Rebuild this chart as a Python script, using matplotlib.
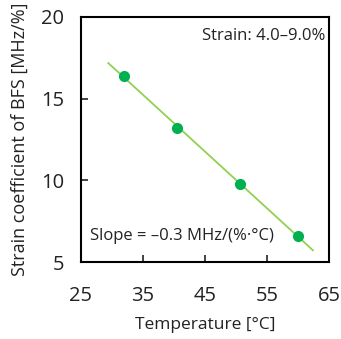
import matplotlib
matplotlib.use('Agg')
import matplotlib.pyplot as plt
import numpy as np

plt.rcParams['font.family'] = ['Open Sans', 'DejaVu Sans']

temperature = [31.9, 40.5, 50.6, 60.0]
coefficient = [16.4, 13.2, 9.8, 6.6]
fit_range = [29.4, 62.4]
xticks = [25, 35, 45, 55, 65]
yticks = [5, 10, 15, 20]

k, b = np.polyfit(temperature, coefficient, 1)
fx = np.array(fit_range)

fig = plt.figure(figsize=(3.41, 3.39), dpi=100)
ax = fig.add_axes([0.2375, 0.227, 0.7275, 0.723])
ax.plot(fx, k * fx + b, color='#92D050', lw=1.3, zorder=2)
ax.plot(temperature, coefficient, 'o', color='#00B050', ms=7, zorder=3)

ax.set_xlim(25, 65)
ax.set_ylim(5, 20)
ax.set_xticks(xticks)
ax.set_yticks(yticks)
ax.tick_params(direction='in', length=5, width=1.2, labelsize=14.5, colors='#222222')
ax.tick_params(axis='x', pad=17)
ax.tick_params(axis='y', pad=12)
for s in ax.spines.values():
    s.set_linewidth(1.5)
ax.set_xlabel('Temperature [°C]', fontsize=12.5, labelpad=8, color='#222222')
ax.set_ylabel('Strain coefficient of BFS [MHz/%]', fontsize=13, labelpad=9, color='#222222')

ax.text(0.985, 0.955, 'Strain: 4.0–9.0%', transform=ax.transAxes,
        ha='right', va='top', fontsize=12, color='#222222')
ax.text(0.035, 0.105, 'Slope = –0.3 MHz/(%·°C)', transform=ax.transAxes,
        ha='left', va='center', fontsize=12, color='#222222')

plt.savefig('out.png', dpi=100)
